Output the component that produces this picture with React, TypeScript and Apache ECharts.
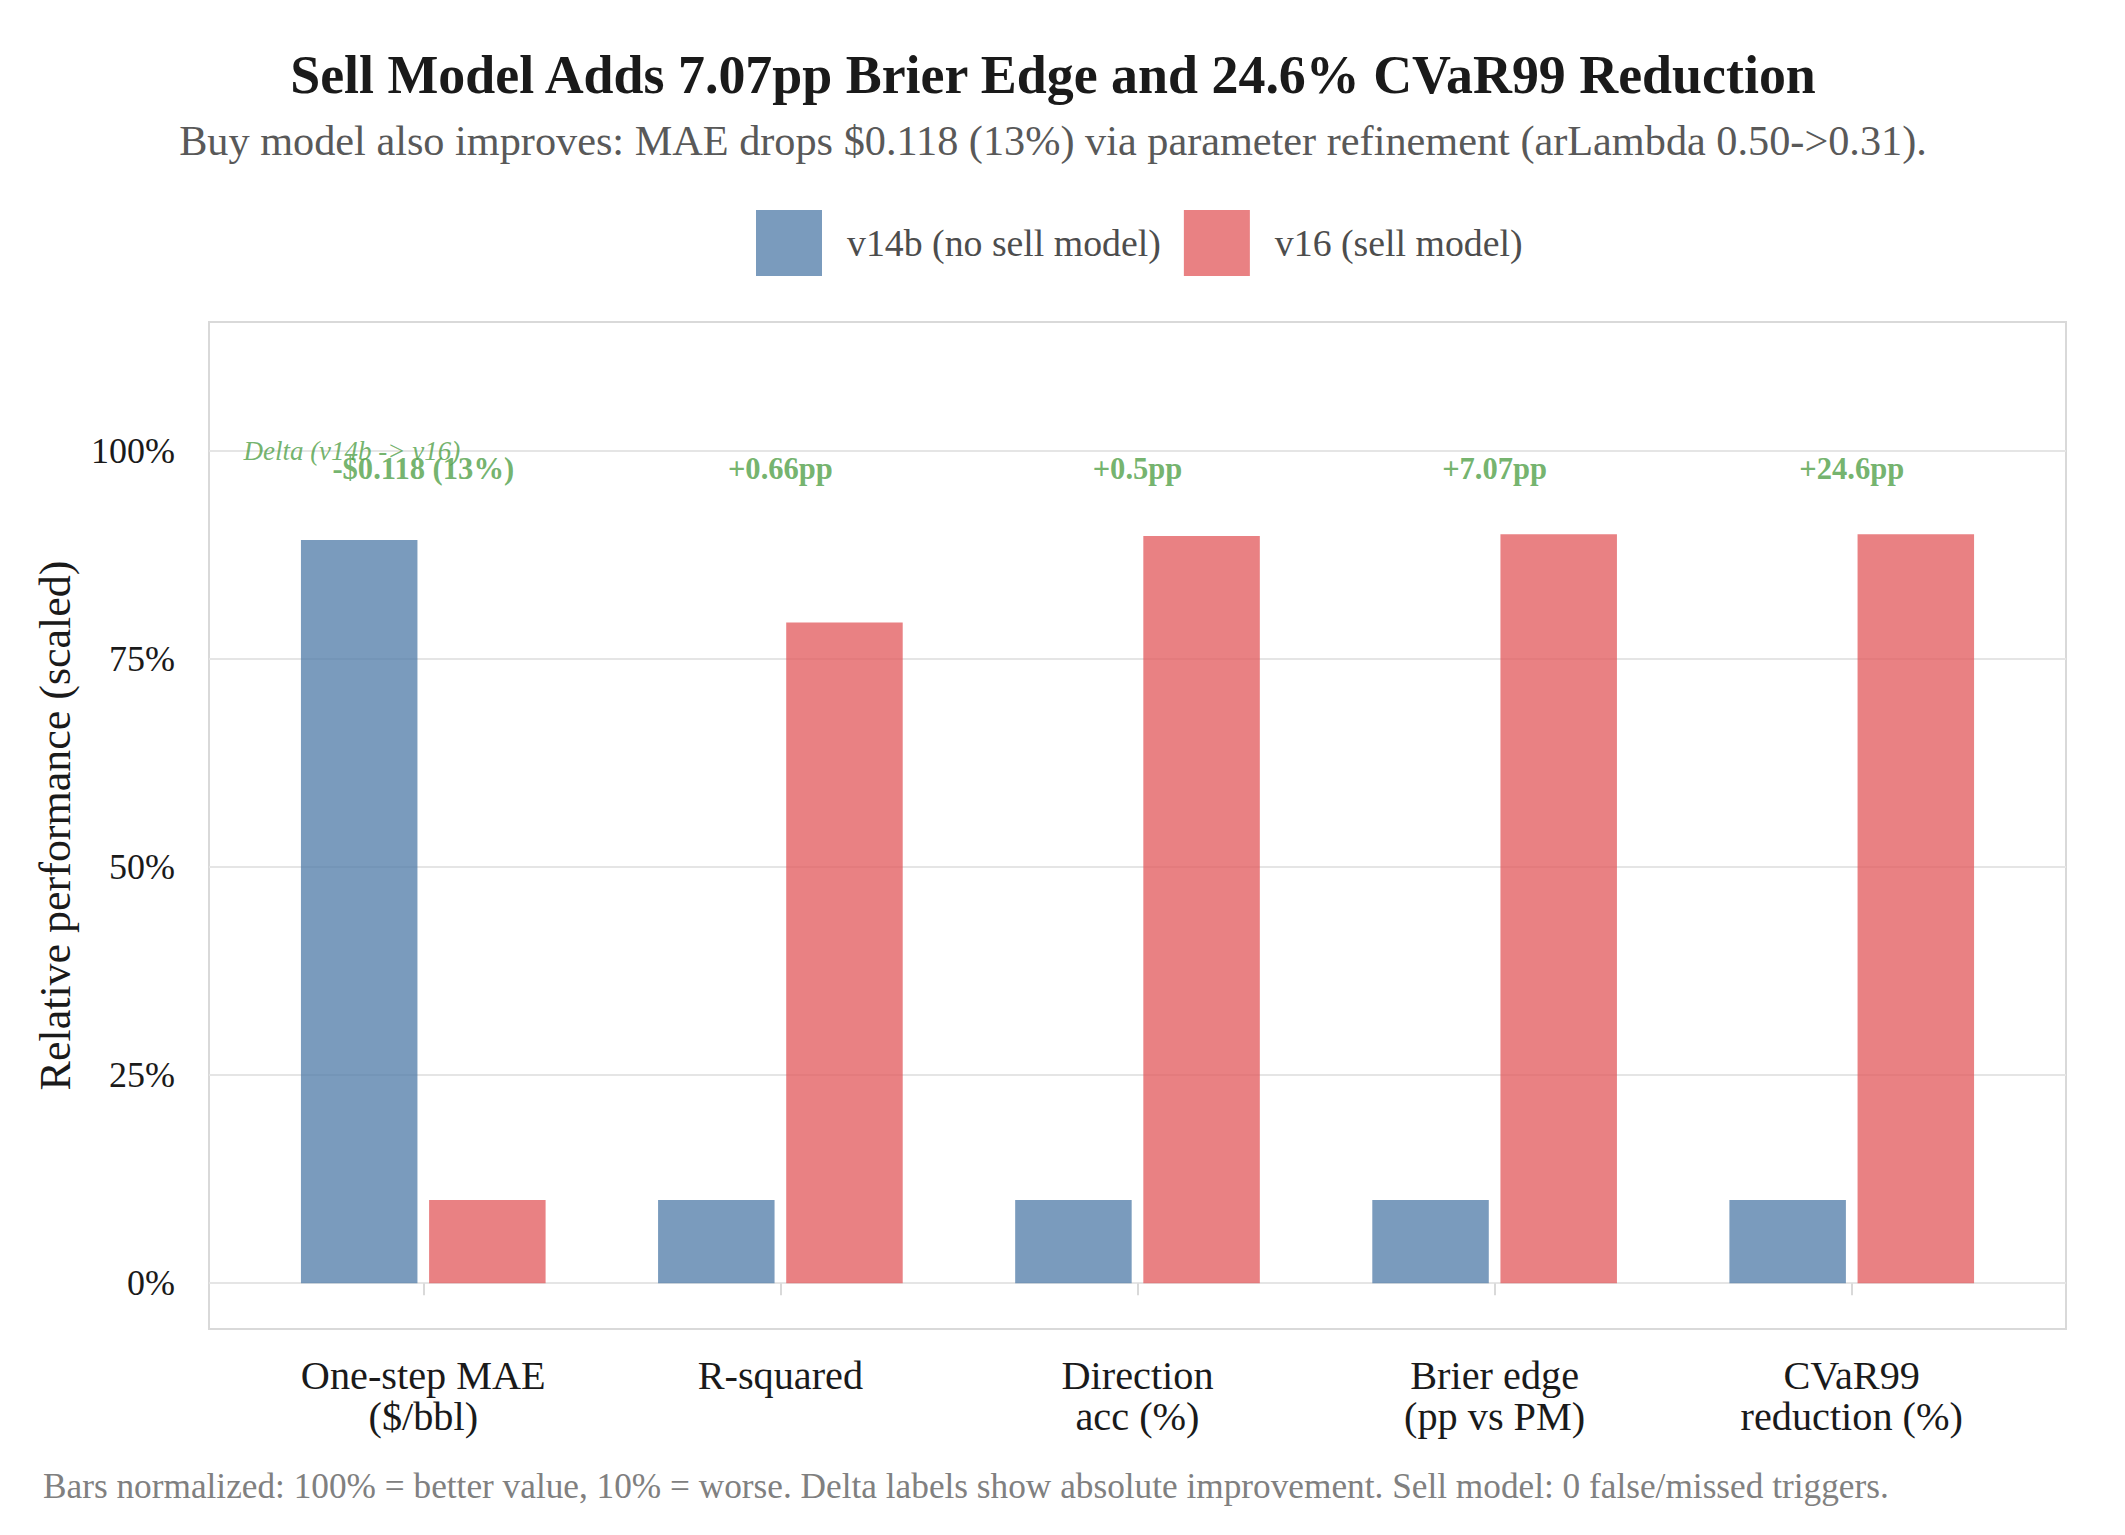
import React, { useEffect, useRef } from "react";
import * as echarts from "echarts";

// ---- data ----
const categories = [
  "One-step MAE\n($/bbl)",
  "R-squared",
  "Direction\nacc (%)",
  "Brier edge\n(pp vs PM)",
  "CVaR99\nreduction (%)",
];
const seriesNames = ["v14b (no sell model)", "v16 (sell model)"];
const v14bValues = [89.3, 10, 10, 10, 10];
const v16Values = [10, 79.4, 89.8, 90, 90];
const deltaLabels = ["-$0.118 (13%)", "+0.66pp", "+0.5pp", "+7.07pp", "+24.6pp"];
const deltaLabelY = 97.8;
const deltaTitle = "Delta (v14b -> v16)";
const deltaTitlePos = [-0.2, 100];
const yTicks = [0, 25, 50, 75, 100];
const xTicks = [0, 1, 2, 3, 4];

const titleText = "Sell Model Adds 7.07pp Brier Edge and 24.6% CVaR99 Reduction";
const subtitleText =
  "Buy model also improves: MAE drops $0.118 (13%) via parameter refinement (arLambda 0.50->0.31).";
const captionText =
  "Bars normalized: 100% = better value, 10% = worse. Delta labels show absolute improvement. Sell model: 0 false/missed triggers.";
const yAxisTitle = "Relative performance (scaled)";

const FONT = "'Liberation Serif', 'DejaVu Serif', serif";

function fit(text: string, target: number, prefix = "") {
  const ctx = document.createElement("canvas").getContext("2d");
  if (!ctx) return 30;
  ctx.font = `${prefix} 100px ${FONT}`;
  const w = ctx.measureText(text).width;
  return (100 * target) / w;
}

export default function App() {
  const ref = useRef<HTMLDivElement>(null);
  useEffect(() => {
    document.body.style.margin = "0";
    if (!ref.current) return;
    const chart = echarts.init(ref.current, undefined, { renderer: "svg" });

    const titleSize = fit(titleText, 1530, "bold");
    const subSize = fit(subtitleText, 1748);
    const capSize = fit(captionText, 1847);
    const legendSize = fit(seriesNames[0], 314);
    const xLabSize = fit("One-step MAE", 245);
    const yLabSize = fit("100%", 84);
    const yTitleSize = fit(yAxisTitle, 530);
    const deltaSize = fit("+7.07pp", 105, "bold");
    const deltaTitleSize = fit(deltaTitle, 217, "italic");

    const green = "#50A047";

    chart.setOption({
      animation: false,
      backgroundColor: "#ffffff",
      graphic: [
        {
          type: "text",
          x: 1053,
          y: 75,
          style: {
            text: titleText,
            fontSize: titleSize,
            fontWeight: "bold",
            fontFamily: FONT,
            fill: "#1a1a1a",
            align: "center",
            verticalAlign: "middle",
          },
        },
        {
          type: "text",
          x: 1053,
          y: 140,
          style: {
            text: subtitleText,
            fontSize: subSize,
            fontFamily: FONT,
            fill: "#595959",
            align: "center",
            verticalAlign: "middle",
          },
        },
        {
          type: "text",
          x: 43,
          y: 1486,
          style: {
            text: captionText,
            fontSize: capSize,
            fontFamily: FONT,
            fill: "#808080",
            align: "left",
            verticalAlign: "middle",
          },
        },
      ],
      legend: {
        data: seriesNames,
        left: 756,
        top: 210,
        padding: 0,
        itemWidth: 66,
        itemHeight: 66,
        itemGap: 23,
        icon: "rect",
        textStyle: {
          fontSize: legendSize,
          fontFamily: FONT,
          color: "#4d4d4d",
          padding: [0, 0, 0, 20],
        },
      },
      grid: {
        left: 209,
        right: 59,
        top: 322,
        bottom: 206,
        show: true,
        borderColor: "#D9D9D9",
        borderWidth: 2,
        containLabel: false,
      },
      xAxis: {
        type: "value",
        min: -0.6,
        max: 4.6,
        axisLine: { show: false },
        splitLine: { show: false },
        axisTick: {
          show: true,
          customValues: xTicks,
          length: 12,
          lineStyle: { color: "#D9D9D9", width: 2 },
        },
        axisLabel: {
          customValues: xTicks,
          formatter: (v: number) => categories[Math.round(v)] ?? "",
          fontSize: xLabSize,
          fontFamily: FONT,
          color: "#1a1a1a",
          lineHeight: 41,
          margin: 26,
        },
      },
      yAxis: {
        type: "value",
        min: -5.5,
        max: 115.5,
        name: yAxisTitle,
        nameLocation: "middle",
        nameGap: 132,
        nameRotate: 90,
        nameTextStyle: { fontSize: yTitleSize, fontFamily: FONT, color: "#1a1a1a" },
        axisLine: { show: false },
        axisTick: {
          show: true,
          customValues: yTicks,
          length: 11,
          lineStyle: { color: "#E5E5E5", width: 2 },
        },
        axisLabel: {
          customValues: yTicks,
          formatter: (v: number) => `${v}%`,
          fontSize: yLabSize,
          fontFamily: FONT,
          color: "#1a1a1a",
          margin: 34,
        },
        splitLine: { show: true, lineStyle: { color: "#E5E5E5", width: 2 } },
      },
      series: [
        {
          name: seriesNames[0],
          type: "bar",
          data: v14bValues.map((v, i) => [xTicks[i], v]),
          barWidth: 116.5,
          barGap: "10%",
          itemStyle: { color: "rgba(78,121,167,0.75)" },
        },
        {
          name: seriesNames[1],
          type: "bar",
          data: v16Values.map((v, i) => [xTicks[i], v]),
          barWidth: 116.5,
          barGap: "10%",
          itemStyle: { color: "rgba(225,87,89,0.75)" },
        },
        {
          type: "scatter",
          silent: true,
          symbolSize: 1,
          itemStyle: { color: "rgba(0,0,0,0)" },
          data: deltaLabels.map((_, i) => [xTicks[i], deltaLabelY]),
          label: {
            show: true,
            position: "inside",
            formatter: (p: any) => deltaLabels[p.dataIndex],
            color: green,
            fontWeight: "bold",
            fontSize: deltaSize,
            fontFamily: FONT,
          },
        },
        {
          type: "scatter",
          silent: true,
          symbolSize: 1,
          itemStyle: { color: "rgba(0,0,0,0)" },
          data: [deltaTitlePos],
          label: {
            show: true,
            position: "inside",
            formatter: () => deltaTitle,
            color: green,
            fontStyle: "italic",
            fontSize: deltaTitleSize,
            fontFamily: FONT,
          },
        },
      ],
    });
    return () => chart.dispose();
  }, []);
  return <div ref={ref} style={{ width: 2125, height: 1535 }} />;
}
